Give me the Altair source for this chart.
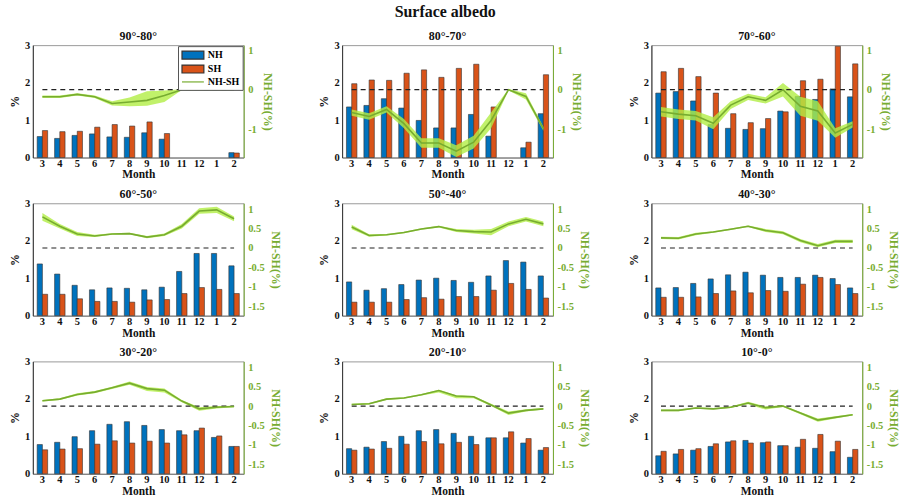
import altair as alt
import pandas as pd

months = ["3", "4", "5", "6", "7", "8", "9", "10", "11", "12", "1", "2"]
series_bar = ["NH", "SH"]
series_leg = ["NH", "SH", "NH-SH"]

titles = ["90°-80°", "80°-70°", "70°-60°", "60°-50°", "50°-40°",
          "40°-30°", "30°-20°", "20°-10°", "10°-0°"]

# ---- 90-80
nh_1 = [0.56, 0.51, 0.59, 0.63, 0.55, 0.54, 0.66, 0.49, None, None, None, 0.13]
sh_1 = [0.72, 0.69, 0.70, 0.81, 0.88, 0.84, 0.95, 0.64, None, None, None, 0.12]
df_1 = [-0.18, -0.18, -0.12, -0.18, -0.35, -0.31, -0.27, -0.15, 0.0, 0.0, 0.0, 0.0]
lo_1 = [-0.21, -0.21, -0.15, -0.21, -0.40, -0.42, -0.41, -0.31, -0.01, -0.01, -0.01, -0.01]
hi_1 = [-0.15, -0.15, -0.09, -0.15, -0.29, -0.20, -0.04, -0.02, 0.01, 0.01, 0.01, 0.01]
# ---- 80-70
nh_2 = [1.35, 1.39, 1.57, 1.32, 0.99, 0.79, 0.79, 1.15, 0.57, None, 0.26, 1.17]
sh_2 = [1.97, 2.07, 2.06, 2.25, 2.34, 2.14, 2.38, 2.49, 1.35, None, 0.41, 2.21]
df_2 = [-0.58, -0.68, -0.50, -0.86, -1.35, -1.35, -1.56, -1.33, -0.78, 0.0, -0.17, -0.99]
lo_2 = [-0.66, -0.76, -0.58, -0.98, -1.47, -1.47, -1.71, -1.49, -0.98, -0.02, -0.25, -1.04]
hi_2 = [-0.50, -0.60, -0.42, -0.74, -1.23, -1.23, -1.41, -1.17, -0.58, 0.02, -0.09, -0.94]
# ---- 70-60
nh_3 = [1.72, 1.76, 1.51, 0.88, 0.78, 0.75, 0.77, 1.24, 1.63, 1.55, 1.83, 1.62]
sh_3 = [2.29, 2.38, 2.16, 1.72, 1.17, 0.93, 1.04, 1.22, 2.05, 2.09, 2.97, 2.50]
df_3 = [-0.56, -0.62, -0.66, -0.85, -0.39, -0.18, -0.27, 0.0, -0.42, -0.54, -1.10, -0.88]
lo_3 = [-0.68, -0.74, -0.78, -1.00, -0.49, -0.26, -0.35, -0.17, -0.66, -0.79, -1.22, -0.96]
hi_3 = [-0.44, -0.50, -0.54, -0.70, -0.29, -0.10, -0.19, 0.17, -0.18, -0.29, -0.98, -0.80]
# ---- 60-50
nh_4 = [1.38, 1.11, 0.81, 0.69, 0.74, 0.73, 0.69, 0.76, 1.18, 1.66, 1.66, 1.33]
sh_4 = [0.57, 0.57, 0.45, 0.38, 0.38, 0.36, 0.42, 0.43, 0.59, 0.75, 0.70, 0.59]
df_4 = [0.80, 0.56, 0.36, 0.31, 0.36, 0.37, 0.28, 0.34, 0.56, 0.95, 0.98, 0.75]
lo_4 = [0.70, 0.50, 0.31, 0.28, 0.34, 0.35, 0.25, 0.31, 0.50, 0.88, 0.90, 0.69]
hi_4 = [0.90, 0.62, 0.41, 0.34, 0.38, 0.39, 0.31, 0.37, 0.62, 1.02, 1.06, 0.81]
# ---- 50-40
nh_5 = [0.90, 0.68, 0.72, 0.83, 0.95, 1.00, 0.94, 0.89, 1.06, 1.47, 1.43, 1.06]
sh_5 = [0.36, 0.36, 0.36, 0.43, 0.48, 0.44, 0.51, 0.51, 0.68, 0.86, 0.70, 0.47]
df_5 = [0.54, 0.32, 0.34, 0.40, 0.49, 0.55, 0.45, 0.42, 0.41, 0.62, 0.74, 0.62]
lo_5 = [0.48, 0.29, 0.32, 0.38, 0.47, 0.53, 0.41, 0.37, 0.33, 0.56, 0.68, 0.56]
hi_5 = [0.60, 0.35, 0.36, 0.42, 0.51, 0.57, 0.49, 0.47, 0.49, 0.68, 0.80, 0.68]
# ---- 40-30
nh_6 = [0.74, 0.75, 0.86, 0.98, 1.09, 1.16, 1.08, 1.02, 1.02, 1.08, 0.99, 0.74]
sh_6 = [0.49, 0.49, 0.50, 0.59, 0.66, 0.61, 0.67, 0.65, 0.84, 1.02, 0.83, 0.59]
df_6 = [0.26, 0.25, 0.36, 0.41, 0.48, 0.56, 0.45, 0.39, 0.19, 0.06, 0.17, 0.17]
lo_6 = [0.23, 0.22, 0.33, 0.39, 0.46, 0.54, 0.41, 0.35, 0.15, 0.02, 0.13, 0.13]
hi_6 = [0.29, 0.28, 0.39, 0.43, 0.50, 0.58, 0.49, 0.43, 0.23, 0.10, 0.21, 0.21]
# ---- 30-20
nh_7 = [0.78, 0.84, 0.99, 1.15, 1.32, 1.39, 1.29, 1.18, 1.15, 1.15, 0.97, 0.73]
sh_7 = [0.64, 0.66, 0.67, 0.79, 0.88, 0.82, 0.87, 0.82, 1.04, 1.22, 1.01, 0.73]
df_7 = [0.14, 0.18, 0.30, 0.36, 0.47, 0.59, 0.45, 0.41, 0.13, -0.07, -0.03, -0.01]
lo_7 = [0.12, 0.16, 0.27, 0.33, 0.44, 0.55, 0.39, 0.35, 0.10, -0.12, -0.06, -0.03]
hi_7 = [0.16, 0.20, 0.33, 0.39, 0.50, 0.63, 0.49, 0.45, 0.16, -0.03, 0.00, 0.01]
# ---- 20-10
nh_8 = [0.67, 0.71, 0.86, 1.00, 1.15, 1.18, 1.08, 1.00, 0.96, 0.96, 0.82, 0.63]
sh_8 = [0.63, 0.66, 0.68, 0.79, 0.86, 0.80, 0.84, 0.78, 0.96, 1.12, 0.94, 0.70]
df_8 = [0.04, 0.06, 0.18, 0.21, 0.29, 0.40, 0.26, 0.24, 0.03, -0.18, -0.11, -0.07]
lo_8 = [0.02, 0.04, 0.16, 0.19, 0.27, 0.35, 0.20, 0.20, 0.00, -0.23, -0.14, -0.09]
hi_8 = [0.06, 0.08, 0.20, 0.23, 0.31, 0.42, 0.28, 0.26, 0.06, -0.14, -0.08, -0.05]
# ---- 10-0
nh_9 = [0.48, 0.53, 0.63, 0.73, 0.85, 0.89, 0.83, 0.75, 0.71, 0.68, 0.59, 0.44]
sh_9 = [0.60, 0.65, 0.67, 0.80, 0.88, 0.82, 0.85, 0.75, 0.92, 1.05, 0.87, 0.65]
df_9 = [-0.11, -0.11, -0.05, -0.07, -0.03, 0.08, -0.04, 0.0, -0.18, -0.36, -0.29, -0.22]
lo_9 = [-0.13, -0.13, -0.07, -0.09, -0.05, 0.05, -0.09, -0.02, -0.21, -0.40, -0.32, -0.24]
hi_9 = [-0.09, -0.09, -0.03, -0.05, -0.01, 0.11, -0.01, 0.02, -0.15, -0.32, -0.26, -0.20]

left_ticks = [0, 1, 2, 3]
right_ticks_top = [-1, 0, 1]
right_ticks_low = [-1.5, -1, -0.5, 0, 0.5, 1]
right_domain_top = [-1.72, 1.13]
right_domain_low = [-1.74, 1.15]

BLUE = "#0072BD"
ORANGE = "#D95319"
GREEN = "#77AC30"
BAND = "#B2EE45"
FONT = "Liberation Serif"
RECT = "M-2.2,-0.8H2.2V0.8H-2.2Z"
LINE = "M-2.2,0H2.2"

W, H = 212, 113


def panel(title, nh, sh, dif, lo, hi, rdomain, rticks, with_legend=False):
    bar_df = pd.DataFrame({
        "month": months * 2,
        "series": ["NH"] * 12 + ["SH"] * 12,
        "value": nh + sh,
    })
    line_df = pd.DataFrame({"month": months, "diff": dif, "lo": lo, "hi": hi,
                            "zero": [0.0] * 12})

    xenc = alt.X("month:N",
                 scale=alt.Scale(domain=months, paddingInner=0.4, paddingOuter=0.25),
                 axis=alt.Axis(title="Month", labelAngle=0, ticks=False,
                               domainColor="#777", labelPadding=1, titlePadding=0,
                               labelFontSize=10.5, titleFontSize=11.5))

    bars = alt.Chart(bar_df).mark_bar(stroke="#333", strokeWidth=0.6).encode(
        x=xenc,
        xOffset=alt.XOffset("series:N", scale=alt.Scale(domain=series_bar, paddingInner=0, paddingOuter=0)),
        y=alt.Y("value:Q", scale=alt.Scale(domain=[0, 3], nice=False),
                axis=alt.Axis(values=left_ticks, title="%", ticks=False, domainColor="#333",
                              labelPadding=3, titlePadding=3, labelFontSize=10.5,
                              titleFontSize=12, grid=False)),
        color=alt.Color("series:N", scale=alt.Scale(domain=series_bar, range=[BLUE, ORANGE]),
                        legend=None),
    )

    raxis = alt.Axis(orient="right", values=rticks, title="NH-SH(%)",
                     labelExpr="'' + datum.value", ticks=False,
                     domainColor=GREEN, labelColor=GREEN, titleColor=GREEN,
                     labelPadding=4, titlePadding=4, labelFontSize=10.5, titleFontSize=12,
                     grid=False)
    rscale = alt.Scale(domain=rdomain, nice=False, zero=False)

    band = alt.Chart(line_df).mark_area(color=BAND, opacity=0.8).encode(
        x=xenc,
        y=alt.Y("lo:Q", scale=rscale, axis=raxis),
        y2="hi:Q",
    )
    dash = alt.Chart(line_df).mark_line(color="#222", strokeDash=[5, 4], strokeWidth=1.2).encode(
        x=xenc,
        y=alt.Y("zero:Q", scale=rscale, axis=raxis),
    )
    line = alt.Chart(line_df).mark_line(color=GREEN, strokeWidth=1.6).encode(
        x=xenc,
        y=alt.Y("diff:Q", scale=rscale, axis=raxis),
    )
    right = alt.layer(band, dash, line)

    layers = [bars, right]
    if with_legend:
        leg_df = pd.DataFrame({"series": series_leg})
        leg = alt.Legend(title=None, orient="none", legendX=146, legendY=1,
                         strokeColor="#555", fillColor="white", padding=3,
                         labelFont=FONT, labelFontWeight="bold", labelFontSize=10,
                         symbolSize=100, symbolStrokeWidth=1.2, symbolOpacity=1,
                         symbolOffset=6, rowPadding=0, labelOffset=9)
        pts = alt.Chart(leg_df).mark_point(opacity=0, filled=True).encode(
            fill=alt.Fill("series:N", scale=alt.Scale(domain=series_leg, range=[BLUE, ORANGE, "transparent"]), legend=leg),
            stroke=alt.Stroke("series:N", scale=alt.Scale(domain=series_leg, range=["#333", "#333", GREEN]), legend=leg),
            shape=alt.Shape("series:N", scale=alt.Scale(domain=series_leg, range=[RECT, RECT, LINE]), legend=leg),
        )
        layers.append(pts)

    return alt.layer(*layers).resolve_scale(y="independent").properties(
        width=W, height=H,
        title=alt.TitleParams(title, fontSize=12, offset=-3),
    )


data = [
    (nh_1, sh_1, df_1, lo_1, hi_1), (nh_2, sh_2, df_2, lo_2, hi_2), (nh_3, sh_3, df_3, lo_3, hi_3),
    (nh_4, sh_4, df_4, lo_4, hi_4), (nh_5, sh_5, df_5, lo_5, hi_5), (nh_6, sh_6, df_6, lo_6, hi_6),
    (nh_7, sh_7, df_7, lo_7, hi_7), (nh_8, sh_8, df_8, lo_8, hi_8), (nh_9, sh_9, df_9, lo_9, hi_9),
]

panels = []
for i, (t, d) in enumerate(zip(titles, data)):
    top = i < 3
    panels.append(panel(t, *d,
                        rdomain=right_domain_top if top else right_domain_low,
                        rticks=right_ticks_top if top else right_ticks_low,
                        with_legend=(i == 0)))

chart = alt.concat(*panels, columns=3, spacing={"row": 46, "column": 99}, bounds="flush").properties(
    title=alt.TitleParams("Surface albedo", fontSize=16, anchor="middle", offset=10, dx=-9),
    padding={"left": 8, "top": 2, "right": 5, "bottom": 4},
).configure(
    font=FONT,
).configure_view(
    stroke="#999", strokeWidth=1,
).configure_axis(
    labelFont=FONT, titleFont=FONT, labelFontWeight="bold", titleFontWeight="bold",
    labelColor="#111", titleColor="#111",
).configure_title(
    font=FONT, fontWeight="bold", color="#111",
)

chart.save("out.html", embed_options={"renderer": "svg", "actions": False})
